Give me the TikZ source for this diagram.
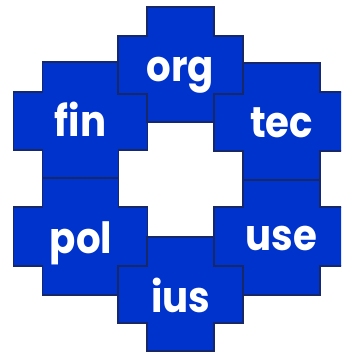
\documentclass[tikz,border=0pt]{standalone}
\usepackage{fontspec}
\setmainfont{Poppins}
\definecolor{tileblue}{RGB}{0,51,204}
\definecolor{tileedge}{RGB}{22,40,105}
\tikzset{
  tile/.style={fill=tileblue, draw=tileedge, line width=1.3pt, line join=miter},
  lbl/.style={text=white, font=\fontsize{43}{43}\selectfont\bfseries, anchor=base, inner sep=0pt, xscale=0.9}
}
% #1 cx, #2 half width of vertical bar, #3 top, #4 band top, #5 band bottom, #6 bottom
\newcommand\crosstile[6]{%
  \draw[tile] ({#1-#2},#3) -- ({#1+#2},#3) -- ({#1+#2},#4) -- ({#1+#2+29},#4)
    -- ({#1+#2+29},#5) -- ({#1+#2},#5) -- ({#1+#2},#6) -- ({#1-#2},#6)
    -- ({#1-#2},#5) -- ({#1-#2-29},#5) -- ({#1-#2-29},#4) -- ({#1-#2},#4) -- cycle;}
\begin{document}
\begin{tikzpicture}[x=1pt,y=-1pt]
\useasboundingbox (0,0) rectangle (341,352);
\clip (0,0) rectangle (341,352);
\crosstile{80.5}{38}{62}{92}{150}{178}
\crosstile{80.5}{38}{178}{207}{266}{295}
\crosstile{281.5}{38.5}{63}{92}{151}{180}
\crosstile{281.5}{38.5}{180}{207}{266}{295}
\crosstile{180.5}{33.5}{7}{36}{94}{122}
\crosstile{180.5}{33.5}{237}{266}{323}{351}
\node[lbl] (org) at (180.5,82) {org};
\node[lbl] (fin) at (80.5,137) {fin};
\node[lbl] (tec) at (281.5,138) {tec};
\node[lbl] (pol) at (81,253) {pol};
\node[lbl] (use) at (281.5,250) {use};
\node[lbl] (ius) at (181,312) {ius};
\end{tikzpicture}
\end{document}
